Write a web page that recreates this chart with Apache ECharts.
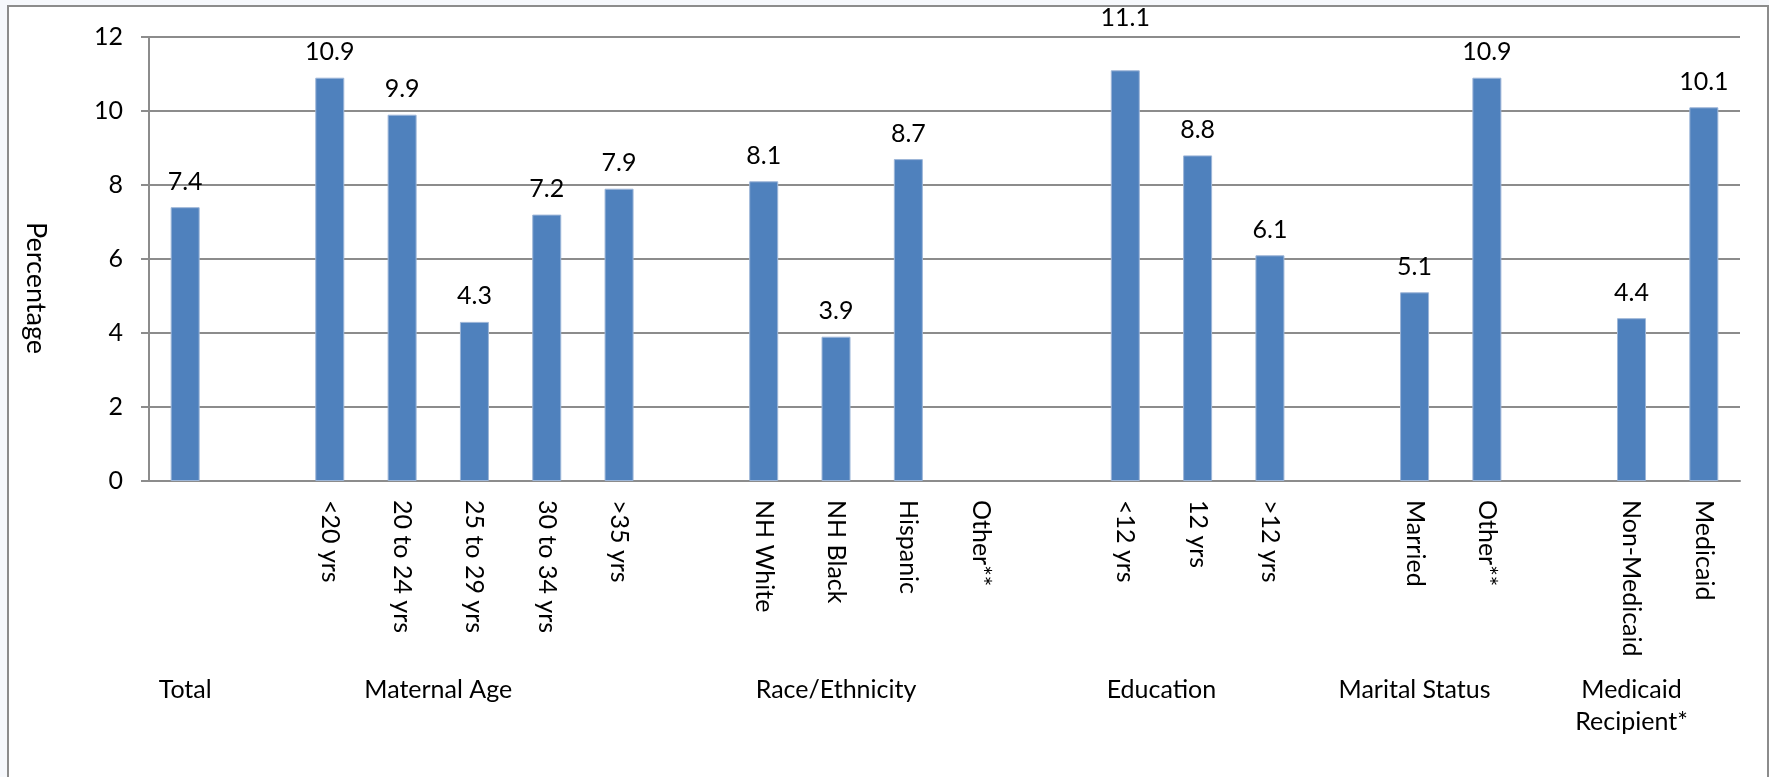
<!DOCTYPE html>
<html>
<head>
<meta charset="utf-8">
<script src="https://cdn.jsdelivr.net/npm/echarts@6/dist/echarts.min.js"></script>
<style>
html,body{margin:0;padding:0;width:1769px;height:777px;overflow:hidden;background:#f6f8fc;}
#frame{position:absolute;left:7px;top:5px;width:1758px;height:800px;background:#fff;border:2px solid #8c8c8c;}
#chart{position:absolute;left:0;top:0;width:1769px;height:777px;}
</style>
</head>
<body>
<div id="frame"></div>
<div id="chart"></div>
<script>
// Categories (blank strings are spacer slots between groups)
const categories = ['', '', '<20 yrs', '20 to 24 yrs', '25 to 29 yrs', '30 to 34 yrs', '>35 yrs', '',
  'NH White', 'NH Black', 'Hispanic', 'Other**', '', '<12 yrs', '12 yrs', '>12 yrs', '',
  'Married', 'Other**', '', 'Non-Medicaid', 'Medicaid'];
const values = [7.4, null, 10.9, 9.9, 4.3, 7.2, 7.9, null,
  8.1, 3.9, 8.7, null, null, 11.1, 8.8, 6.1, null,
  5.1, 10.9, null, 4.4, 10.1];
// Group labels and the number of category slots each group spans
const groupNames = ['Total', 'Maternal Age', 'Race/Ethnicity', 'Education', 'Marital Status', 'Medicaid\nRecipient*'];
const groupSpans = [1, 6, 5, 4, 3, 3];
const yTicks = [0, 2, 4, 6, 8, 10, 12];

const groupCenters = [];
let start = 0;
groupSpans.forEach(n => { groupCenters.push(start + (n - 1) / 2); start += n; });

const FONT = 'Lato';
const FS = 25;
const seriesData = values.map(v => {
  // the label of the tallest bar sits at the top edge of the plot in the reference
  if (v != null && v > yTicks[yTicks.length - 1] - 1) return {value: v, label: {distance: 40}};
  return v;
});

const chart = echarts.init(document.getElementById('chart'), null, {renderer: 'canvas'});
chart.setOption({
  backgroundColor: 'transparent',
  animation: false,
  textStyle: {fontFamily: FONT, color: '#000'},
  grid: {left: 149, right: 29, top: 37, bottom: 296, containLabel: false},
  xAxis: [{
    type: 'category',
    data: categories,
    boundaryGap: true,
    axisLine: {show: true, lineStyle: {color: '#8c8c8c', width: 2}},
    axisTick: {show: false},
    axisLabel: {interval: 0, rotate: -90, margin: 19, fontSize: FS, color: '#000', fontFamily: FONT}
  }, {
    type: 'value',
    min: -0.5, max: 21.5,
    position: 'bottom',
    axisLine: {show: false},
    axisTick: {show: false},
    splitLine: {show: false},
    axisLabel: {
      show: true,
      customValues: groupCenters,
      margin: 193,
      fontSize: FS, lineHeight: 32, color: '#000', fontFamily: FONT,
      formatter: v => { const i = groupCenters.indexOf(v); return i >= 0 ? groupNames[i] : ''; }
    }
  }],
  yAxis: {
    type: 'value',
    min: yTicks[0], max: yTicks[yTicks.length - 1], interval: 2,
    name: 'Percentage',
    nameLocation: 'middle',
    nameRotate: -90,
    nameGap: 100,
    nameTextStyle: {fontSize: 27, color: '#000', fontFamily: FONT, padding: [0, 0, 0, 58]},
    axisLine: {show: true, onZero: false, lineStyle: {color: '#8c8c8c', width: 2}},
    axisTick: {show: true, length: 8, lineStyle: {color: '#8c8c8c', width: 2}},
    splitLine: {show: true, lineStyle: {color: '#8c8c8c', width: 2}},
    axisLabel: {margin: 26, fontSize: FS, color: '#000', fontFamily: FONT}
  },
  series: [{
    type: 'bar',
    xAxisIndex: 0,
    data: seriesData,
    barWidth: 29,
    itemStyle: {color: '#4f81bd', borderColor: '#9db6d8', borderWidth: 1},
    label: {show: true, position: 'top', distance: 13, fontSize: FS, color: '#000', fontFamily: FONT,
      formatter: p => p.value == null ? '' : p.value.toFixed(1)}
  }]
});
</script>
</body>
</html>
